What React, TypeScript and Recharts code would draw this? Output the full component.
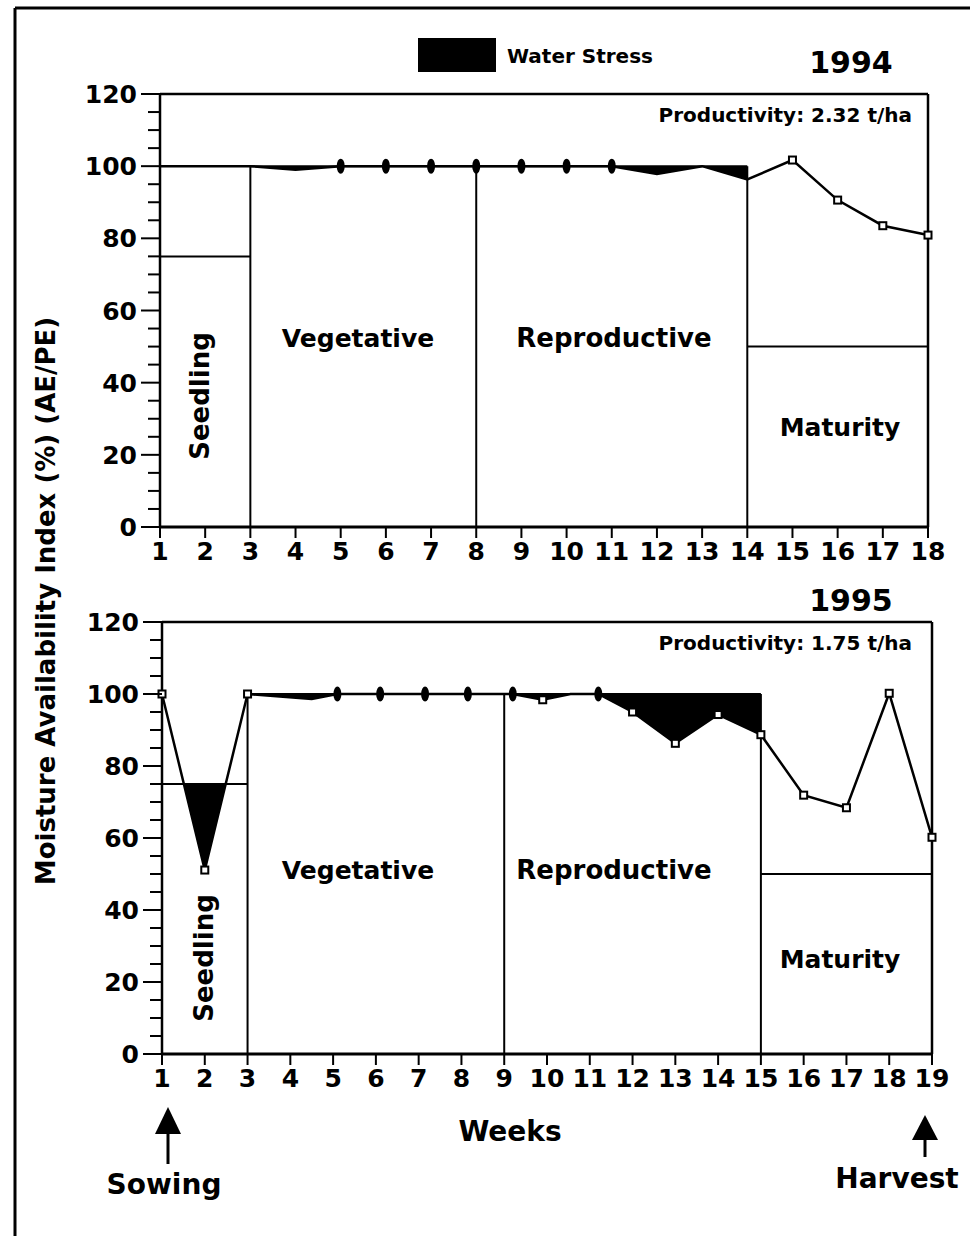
import React from 'react';
import { ComposedChart, Line, Area, XAxis, YAxis, ReferenceLine } from 'recharts';

const FONT = '"DejaVu Sans", "Liberation Sans", Arial, sans-serif';

// 1994 season
const weeks94 = [1, 2, 3, 4, 5, 6, 7, 8, 9, 10, 11, 12, 13, 14, 15, 16, 17, 18];
const mai94 = [100, 100, 100, 99, 100, 100, 100, 100, 100, 100, 100, 97.8, 100, 96.3, 101.7, 90.6, 83.5, 80.9];
const marks94 = ['', '', '', '', 'o', 'o', 'o', 'o', 'o', 'o', 'o', '', '', '', 's', 's', 's', 's'];
const stages94 = [1, 3, 8, 14, 18]; // seedling | vegetative | reproductive | maturity
const ticks94 = [1, 2, 3, 4, 5, 6, 7, 8, 9, 10, 11, 12, 13, 14, 15, 16, 17, 18];

// 1995 season
const weeks95 = [1, 2, 3, 4.5, 5.1, 6.1, 7.15, 8.15, 9.2, 9.9, 10.55, 11.2, 12, 13, 14, 15, 16, 17, 18, 19];
const mai95 = [100, 51.1, 100, 98.6, 100, 100, 100, 100, 100, 98.4, 100, 100, 95, 86.3, 94.3, 88.7, 71.9, 68.4, 100.2, 60.2];
const marks95 = ['s', 's', 's', '', 'o', 'o', 'o', 'o', 'o', 's', '', 'o', 's', 's', 's', 's', 's', 's', 's', 's'];
const stages95 = [1, 3, 9, 15, 19];
const ticks95 = [1, 2, 3, 4, 5, 6, 7, 8, 9, 10, 11, 12, 13, 14, 15, 16, 17, 18, 19];

// critical index per stage: seedling, vegetative, reproductive, maturity
const critical = [75, 100, 100, 50];
const yTicks = [0, 5, 10, 15, 20, 25, 30, 35, 40, 45, 50, 55, 60, 65, 70, 75, 80, 85, 90, 95, 100, 105, 110, 115, 120];

function buildRows(weeks: number[], mai: number[], marks: string[], stages: number[]) {
  return weeks.map((w, i) => ({
    w,
    mai: mai[i],
    mk: marks[i],
    seed: w <= stages[1] ? mai[i] : null,
    crop: w >= stages[1] && w <= stages[3] ? mai[i] : null,
  }));
}

function YTick({ x, y, payload }: any) {
  const major = payload.value % 20 === 0;
  return (
    <g>
      <line x1={x - (major ? 19 : 12)} y1={y} x2={x} y2={y} stroke="#000" strokeWidth={2} />
      {major && (
        <text x={x - 23} y={y} dy="0.36em" textAnchor="end" fontSize={25} fontWeight={700} fontFamily={FONT} fill="#000">
          {payload.value}
        </text>
      )}
    </g>
  );
}

const renderDot = (p: any) => {
  const { cx, cy, payload, index } = p;
  if (payload.mk === 'o') return <ellipse key={index} cx={cx} cy={cy} rx={4} ry={7.5} fill="#000" />;
  if (payload.mk === 's')
    return <rect key={index} x={cx - 3.5} y={cy - 3.5} width={7} height={7} fill="#fff" stroke="#000" strokeWidth={2} />;
  return <g key={index} />;
};

interface PanelProps {
  rows: any[];
  stages: number[];
  ticks: number[];
  gid: string;
  top: number;
  height: number;
  margin: { top: number; right: number; left: number; bottom: number };
}

function Panel({ rows, stages, ticks, gid, top, height, margin }: PanelProps) {
  const seedVals = rows.filter((r) => r.seed != null).map((r) => r.seed);
  const hi = Math.max(...seedVals, critical[0]);
  const lo = Math.min(...seedVals, critical[0]);
  const off = hi === lo ? 1 : (hi - critical[0]) / (hi - lo);
  const line = { stroke: '#000', strokeWidth: 2 };

  return (
    <div style={{ position: 'absolute', left: 0, top }}>
      <ComposedChart width={970} height={height} data={rows} margin={margin}>
        <defs>
          <linearGradient id={gid} x1="0" y1="0" x2="0" y2="1">
            <stop offset={0} stopColor="#000" stopOpacity={0} />
            <stop offset={off} stopColor="#000" stopOpacity={0} />
            <stop offset={off} stopColor="#000" stopOpacity={1} />
            <stop offset={1} stopColor="#000" stopOpacity={1} />
          </linearGradient>
        </defs>
        <XAxis
          type="number"
          dataKey="w"
          domain={[stages[0], stages[4]]}
          ticks={ticks}
          interval={0}
          height={30}
          tickSize={11}
          tickMargin={4}
          tickLine={{ stroke: '#000', strokeWidth: 2 }}
          axisLine={{ stroke: '#000', strokeWidth: 3 }}
          tick={{ fill: '#000', fontSize: 25, fontWeight: 700, fontFamily: FONT }}
        />
        <YAxis
          type="number"
          domain={[0, 120]}
          ticks={yTicks}
          interval={0}
          width={60}
          tickSize={0}
          tickMargin={0}
          tickLine={false}
          axisLine={{ stroke: '#000', strokeWidth: 2.5 }}
          tick={(p: any) => <YTick {...p} />}
        />
        <Area
          type="linear"
          dataKey="seed"
          baseValue={critical[0]}
          stroke="none"
          fill={`url(#${gid})`}
          fillOpacity={1}
          dot={false}
          activeDot={false}
          isAnimationActive={false}
        />
        <Area
          type="linear"
          dataKey="crop"
          baseValue={critical[1]}
          stroke="none"
          fill="#000"
          fillOpacity={1}
          dot={false}
          activeDot={false}
          isAnimationActive={false}
        />
        <ReferenceLine y={120} stroke="#000" strokeWidth={2.5} />
        <ReferenceLine x={stages[4]} stroke="#000" strokeWidth={2.5} />
        <ReferenceLine segment={[{ x: stages[0], y: critical[0] }, { x: stages[1], y: critical[0] }]} {...line} />
        <ReferenceLine segment={[{ x: stages[1], y: critical[1] }, { x: stages[3], y: critical[2] }]} {...line} />
        <ReferenceLine segment={[{ x: stages[3], y: critical[3] }, { x: stages[4], y: critical[3] }]} {...line} />
        {[stages[1], stages[2], stages[3]].map((s) => (
          <ReferenceLine key={s} segment={[{ x: s, y: 0 }, { x: s, y: 100 }]} {...line} />
        ))}
        <Line
          type="linear"
          dataKey="mai"
          stroke="#000"
          strokeWidth={2.5}
          dot={renderDot}
          activeDot={false}
          isAnimationActive={false}
        />
      </ComposedChart>
    </div>
  );
}

const txt = { fontFamily: FONT, fontWeight: 700, fill: '#000' } as const;

export default function App() {
  const rows94 = buildRows(weeks94, mai94, marks94, stages94);
  const rows95 = buildRows(weeks95, mai95, marks95, stages95);

  return (
    <div style={{ position: 'absolute', left: 0, top: 0, width: 970, height: 1236, background: '#fff', overflow: 'hidden' }}>
      <Panel rows={rows94} stages={stages94} ticks={ticks94} gid="seed94" top={0} height={580}
        margin={{ top: 94, right: 42, left: 100, bottom: 23 }} />
      <Panel rows={rows95} stages={stages95} ticks={ticks95} gid="seed95" top={580} height={540}
        margin={{ top: 42, right: 38, left: 102, bottom: 36 }} />

      <svg width={970} height={1236} style={{ position: 'absolute', left: 0, top: 0, pointerEvents: 'none' }}>
        {/* outer frame */}
        <line x1={15} y1={8} x2={970} y2={8} stroke="#000" strokeWidth={3} />
        <line x1={15} y1={8} x2={15} y2={1236} stroke="#000" strokeWidth={3} />

        {/* legend */}
        <rect x={418} y={38} width={78} height={34} fill="#000" />
        <text x={507} y={63} fontSize={20} {...txt}>Water Stress</text>

        {/* 1994 */}
        <text x={851} y={73} fontSize={30} textAnchor="middle" {...txt}>1994</text>
        <text x={912} y={122} fontSize={20} textAnchor="end" {...txt}>Productivity: 2.32 t/ha</text>
        <text transform="translate(200,396) rotate(-90)" dy="0.36em" fontSize={26} textAnchor="middle" {...txt}>Seedling</text>
        <text x={358} y={347} fontSize={25} textAnchor="middle" {...txt}>Vegetative</text>
        <text x={614} y={347} fontSize={26} textAnchor="middle" {...txt}>Reproductive</text>
        <text x={840} y={436} fontSize={25} textAnchor="middle" {...txt}>Maturity</text>

        {/* 1995 */}
        <text x={851} y={611} fontSize={30} textAnchor="middle" {...txt}>1995</text>
        <text x={912} y={650} fontSize={20} textAnchor="end" {...txt}>Productivity: 1.75 t/ha</text>
        <text transform="translate(204,958) rotate(-90)" dy="0.36em" fontSize={26} textAnchor="middle" {...txt}>Seedling</text>
        <text x={358} y={879} fontSize={25} textAnchor="middle" {...txt}>Vegetative</text>
        <text x={614} y={879} fontSize={26} textAnchor="middle" {...txt}>Reproductive</text>
        <text x={840} y={968} fontSize={25} textAnchor="middle" {...txt}>Maturity</text>

        {/* axis titles */}
        <text transform="translate(46,601) rotate(-90)" dy="0.36em" fontSize={26} textAnchor="middle" {...txt}>
          Moisture Availability Index (%) (AE/PE)
        </text>
        <text x={510} y={1141} fontSize={28} textAnchor="middle" {...txt}>Weeks</text>

        {/* sowing / harvest */}
        <polygon points="168,1107 155,1134 181,1134" fill="#000" />
        <line x1={168} y1={1132} x2={168} y2={1164} stroke="#000" strokeWidth={3} />
        <text x={164} y={1194} fontSize={28} textAnchor="middle" {...txt}>Sowing</text>
        <polygon points="925,1115 912,1140 938,1140" fill="#000" />
        <line x1={925} y1={1138} x2={925} y2={1157} stroke="#000" strokeWidth={3} />
        <text x={897} y={1188} fontSize={28} textAnchor="middle" {...txt}>Harvest</text>
      </svg>
    </div>
  );
}
